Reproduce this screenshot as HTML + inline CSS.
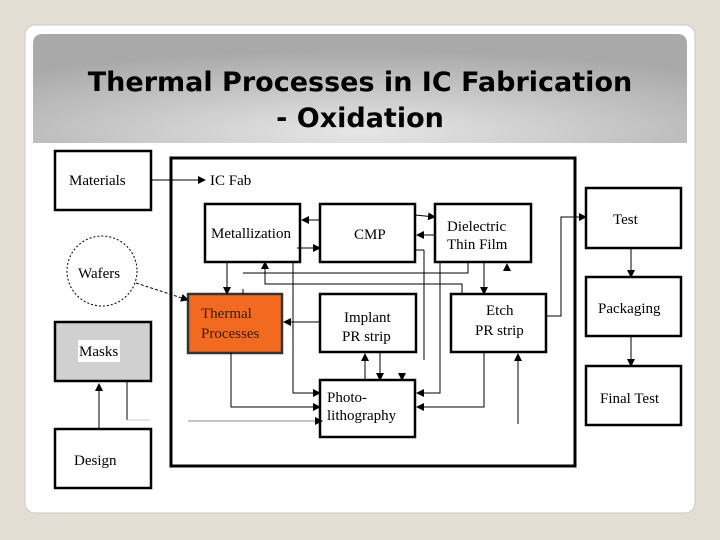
<!DOCTYPE html>
<html><head><meta charset="utf-8"><style>
html,body{margin:0;padding:0;background:#e3ddd3;width:720px;height:540px;overflow:hidden}
svg{display:block}
</style></head><body>
<svg width="720" height="540" viewBox="0 0 720 540" xmlns="http://www.w3.org/2000/svg">
<defs>
<radialGradient id="hg" cx="0.5" cy="0.9" r="0.75">
<stop offset="0" stop-color="#e6e6e6"/><stop offset="1" stop-color="#a9a9a9"/>
</radialGradient>
<marker id="a" markerWidth="8" markerHeight="8" refX="7" refY="4" orient="auto" markerUnits="userSpaceOnUse">
<path d="M0,0 L8,4 L0,8 z" fill="#000"/></marker>
</defs>
<rect x="25" y="25" width="670" height="488" rx="10" fill="#fff" stroke="#cfcac0"/>
<path d="M43,34 H677 Q687,34 687,44 V143 H33 V44 Q33,34 43,34 Z" fill="url(#hg)"/>
<g font-family="'DejaVu Sans',sans-serif" font-weight="bold" font-size="27" text-anchor="middle" fill="#000">
<text x="360" y="91">Thermal Processes in IC Fabrication</text>
<text x="360" y="127">- Oxidation</text>
</g>
<g fill="none" stroke="#000">
<rect x="171" y="158" width="404" height="308" stroke-width="3"/>
<rect x="55" y="151" width="96" height="59" stroke-width="2.5"/>
<circle cx="102" cy="271" r="35" stroke-dasharray="2,2" stroke-width="1"/>
<rect x="55" y="322" width="96" height="59" stroke-width="2.5" fill="#d0d0d0"/>
<rect x="55" y="429" width="96" height="59" stroke-width="2.5"/>
<rect x="205" y="204" width="95" height="58" stroke-width="2.5"/>
<rect x="320" y="204" width="95" height="58" stroke-width="2.5"/>
<rect x="435" y="204" width="96" height="58" stroke-width="2.5"/>
<rect x="188" y="294" width="94" height="59" stroke-width="2.5" fill="#f26a1f" stroke="#333"/>
<rect x="320" y="294" width="96" height="58" stroke-width="2.5"/>
<rect x="451" y="294" width="95" height="58" stroke-width="2.5"/>
<rect x="320" y="380" width="95" height="57" stroke-width="2.5"/>
<rect x="586" y="188" width="95" height="60" stroke-width="2.5"/>
<rect x="586" y="277" width="95" height="59" stroke-width="2.5"/>
<rect x="586" y="366" width="95" height="59" stroke-width="2.5"/>
</g>
<rect x="78" y="340" width="42" height="22" fill="#fff"/>
<g fill="none" stroke="#000" stroke-width="1">
<line x1="151" y1="180" x2="205" y2="180" marker-end="url(#a)"/>
<line x1="136" y1="283" x2="188" y2="300" stroke-dasharray="3,2" marker-end="url(#a)"/>
<line x1="99" y1="429" x2="99" y2="384" marker-end="url(#a)"/>
<line x1="127" y1="381" x2="127" y2="420"/>
<line x1="127" y1="420" x2="150" y2="420" stroke="#ccc"/>
<line x1="320" y1="220" x2="302" y2="220" marker-end="url(#a)"/>
<line x1="297" y1="248" x2="320" y2="248" marker-end="url(#a)"/>
<line x1="415" y1="215" x2="435" y2="217" marker-end="url(#a)"/>
<line x1="435" y1="235" x2="417" y2="235" marker-end="url(#a)"/>
<line x1="415" y1="250" x2="424" y2="250"/><line x1="424" y1="250" x2="424" y2="360"/>
<line x1="227" y1="262" x2="227" y2="294" marker-end="url(#a)"/>
<polyline points="243,273 468,273 468,262"/>
<line x1="243" y1="289" x2="243" y2="294"/>
<polyline points="462,294 462,284 265,284 265,262" marker-end="url(#a)"/>
<line x1="484" y1="262" x2="484" y2="294" marker-end="url(#a)"/>
<line x1="507" y1="271" x2="507" y2="264" marker-end="url(#a)"/>
<line x1="320" y1="322" x2="284" y2="322" marker-end="url(#a)"/>
<polyline points="293,262 293,393 320,393" marker-end="url(#a)"/>
<polyline points="231,353 231,407 320,407" marker-end="url(#a)"/>
<line x1="188" y1="421" x2="322" y2="421" stroke="#888" marker-end="url(#a)"/>
<line x1="365" y1="380" x2="365" y2="354" marker-end="url(#a)"/>
<line x1="380" y1="352" x2="380" y2="380" marker-end="url(#a)"/>
<line x1="402" y1="374" x2="402" y2="380" marker-end="url(#a)"/>
<polyline points="440,262 440,393 417,393" marker-end="url(#a)"/>
<polyline points="484,352 484,407 417,407" marker-end="url(#a)"/>
<line x1="518" y1="424" x2="518" y2="354" marker-end="url(#a)"/>
<polyline points="546,316 561,316 561,217 586,217" marker-end="url(#a)"/>
<line x1="631" y1="248" x2="631" y2="277" marker-end="url(#a)"/>
<line x1="631" y1="336" x2="631" y2="366" marker-end="url(#a)"/>
</g>
<g font-family="'Liberation Serif',serif" font-size="15" fill="#000">
<text x="69" y="185">Materials</text>
<text x="78" y="278">Wafers</text>
<text x="79" y="356">Masks</text>
<text x="74" y="465">Design</text>
<text x="210" y="185">IC Fab</text>
<text x="211" y="238">Metallization</text>
<text x="354" y="239">CMP</text>
<text x="447" y="231">Dielectric</text>
<text x="447" y="249">Thin Film</text>
<text x="201" y="318" fill="#3a1a05">Thermal</text>
<text x="201" y="338" fill="#3a1a05">Processes</text>
<text x="344" y="322">Implant</text>
<text x="342" y="341">PR strip</text>
<text x="486" y="315">Etch</text>
<text x="475" y="335">PR strip</text>
<text x="327" y="402">Photo-</text>
<text x="327" y="420">lithography</text>
<text x="613" y="224">Test</text>
<text x="598" y="313">Packaging</text>
<text x="600" y="403">Final Test</text>
</g>
</svg>
</body></html>
